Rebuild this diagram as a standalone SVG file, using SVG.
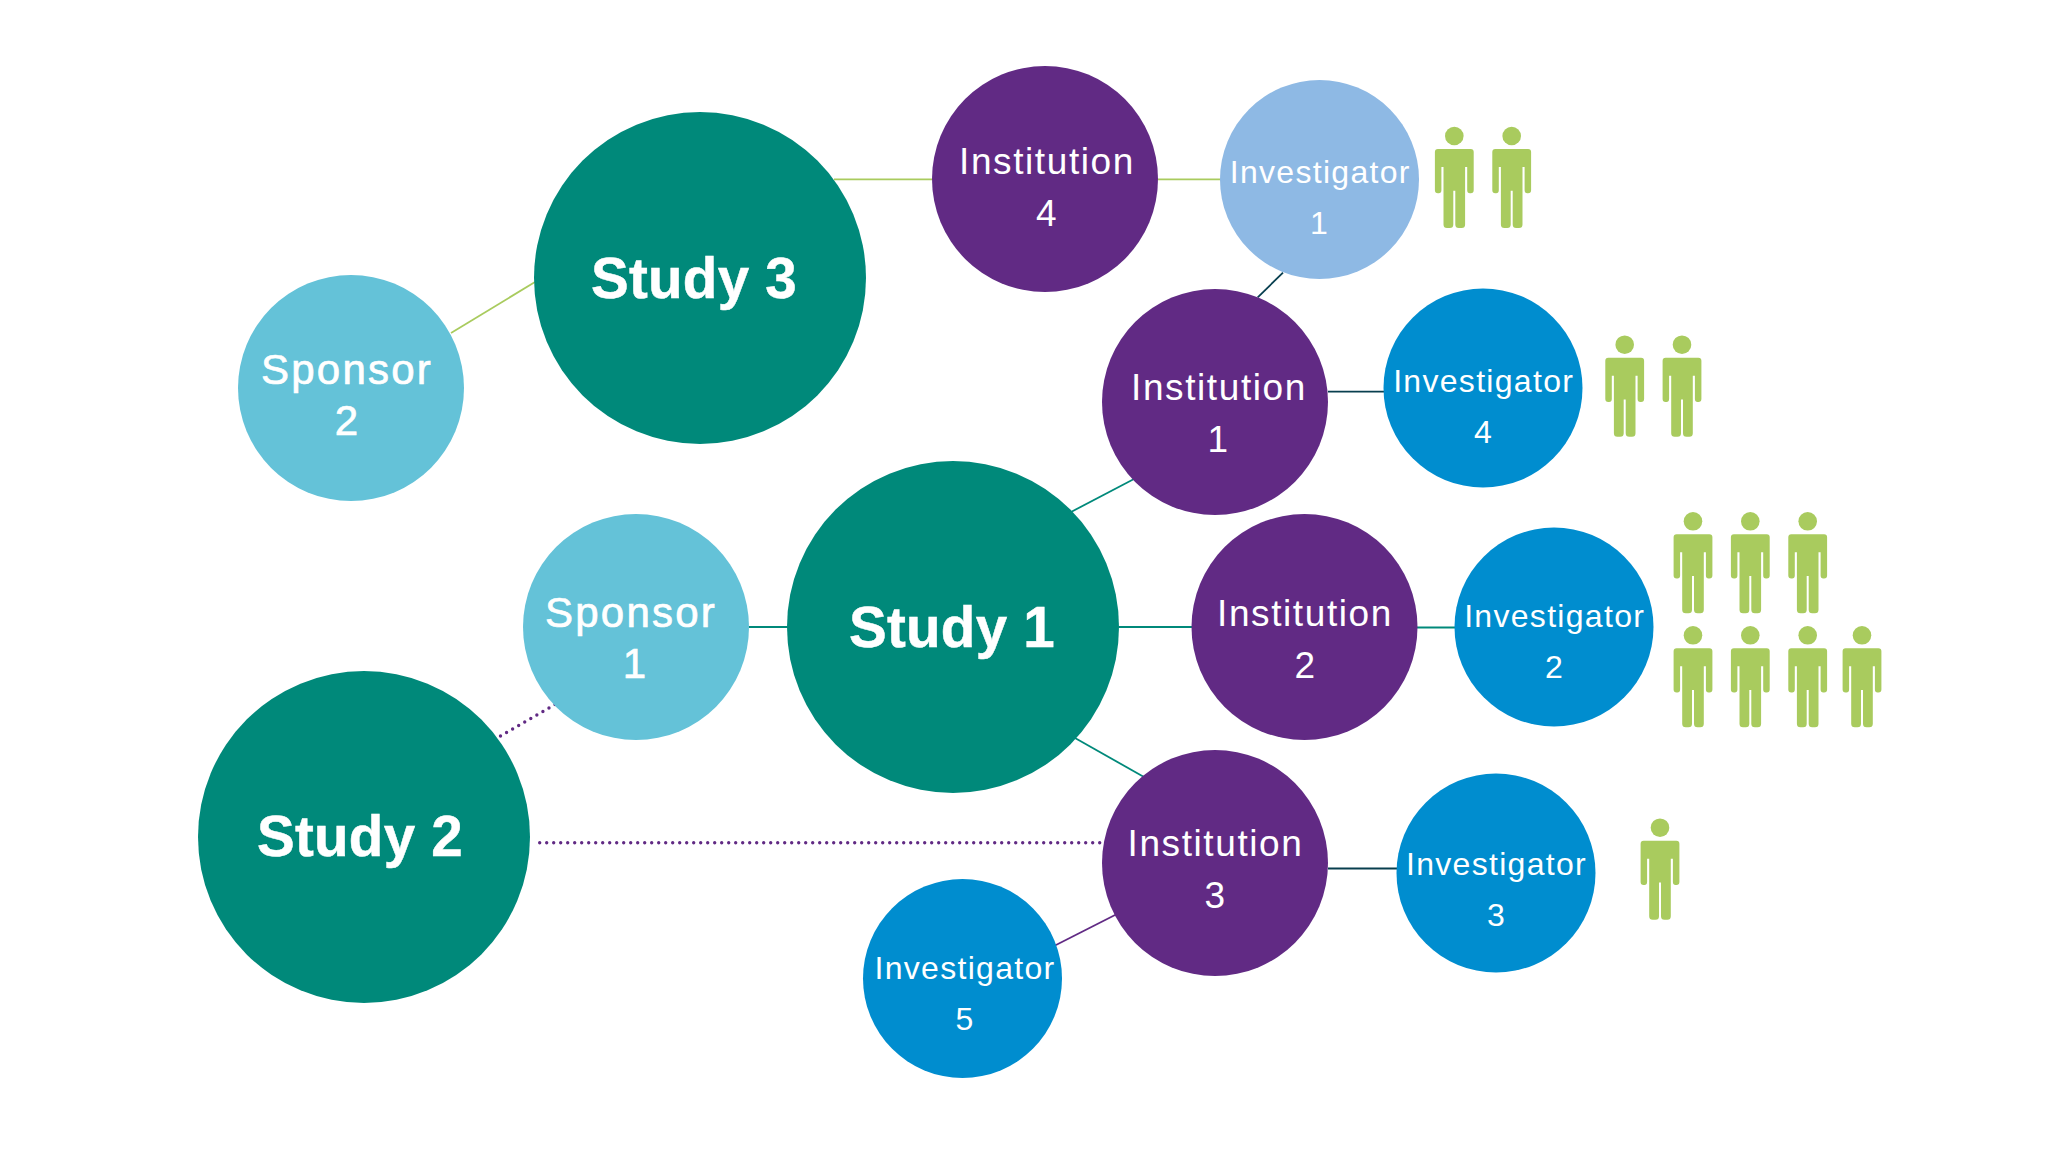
<svg xmlns="http://www.w3.org/2000/svg" xmlns:xlink="http://www.w3.org/1999/xlink" width="2048" height="1152" viewBox="0 0 2048 1152">
<style>
text{font-family:"Liberation Sans",Arial,sans-serif;fill:#fff;text-anchor:middle}
.st{fill:#00897a}.in{fill:#612a84}.sp{fill:#64c2d8}.iv{fill:#008dcf}.iv1{fill:#8eb9e4}
.t-study{font-size:56.5px;font-weight:bold;letter-spacing:.3px;stroke:#fff;stroke-width:.5px}
.t-sp{font-size:42px;letter-spacing:2.2px;stroke:#fff;stroke-width:.7px}
.t-in{font-size:37px;letter-spacing:1.6px}
.t-iv{font-size:32px;letter-spacing:1.3px}
.l{fill:none;stroke-width:1.8}
.g{stroke:#a9cb5e}.t{stroke:#00897a}.d{stroke:#083f4f}.p{stroke:#612a84}
.dot{fill:none;stroke:#612a84;stroke-width:3.4;stroke-linecap:round;stroke-dasharray:0 7}
.person{fill:#a9cb5e}
</style>
<defs>
<g id="person">
<circle cx="0" cy="0" r="9.3"/>
<path d="M-16.4 13H16.4Q19.4 13 19.4 16V54.3Q19.4 57.3 16.4 57.3H15.6Q12.9 57.3 12.900 54.3V31H10.800V88.500Q10.800 92 7.300 92H4.500Q1 92 1 88.500V54.700H-1V88.500Q-1 92-4.500 92H-7.300Q-10.800 92-10.800 88.500V31H-12.900V54.300Q-12.900 57.300-15.600 57.300H-16.400Q-19.400 57.300-19.400 54.300V16Q-19.400 13-16.400 13Z"/>
</g>
</defs>
<rect width="2048" height="1152" fill="#fff"/>
<g id="connectors">
<line class="l g" x1="451" y1="333" x2="535" y2="282"/>
<line class="l g" x1="834" y1="179.300" x2="932" y2="179.300"/>
<line class="l g" x1="1158" y1="179.300" x2="1220" y2="179.300"/>
<line class="l d" x1="1257.700" y1="297.300" x2="1283" y2="272.700"/>
<line class="l d" x1="1328" y1="391.700" x2="1384" y2="391.700"/>
<line class="l t" x1="1071" y1="512" x2="1134" y2="479"/>
<line class="l t" x1="749" y1="627" x2="788" y2="627"/>
<line class="l t" x1="1119" y1="627" x2="1192" y2="627"/>
<line class="l t" x1="1417" y1="627.500" x2="1455" y2="627.500"/>
<line class="l t" x1="1075" y1="738" x2="1144" y2="777"/>
<line class="l d" x1="1328" y1="868.500" x2="1397" y2="868.500"/>
<line class="l p" x1="1055" y1="945.500" x2="1117" y2="914"/>
<line class="dot" x1="500.500" y1="736" x2="562" y2="700.400"/>
<line class="dot" x1="539.700" y1="842.700" x2="1105" y2="842.700"/>
</g>
<g id="study3"><circle class="st" cx="700" cy="278" r="166"/><text class="t-study" x="694" y="297.500">Study 3</text></g>
<g id="study1"><circle class="st" cx="953" cy="627" r="166"/><text class="t-study" x="952" y="646.500">Study 1</text></g>
<g id="study2"><circle class="st" cx="364" cy="837" r="166"/><text class="t-study" x="360" y="856">Study 2</text></g>
<g id="sponsor2"><circle class="sp" cx="351" cy="388" r="113"/><text class="t-sp" x="347" y="384">Sponsor</text><text class="t-sp" x="347.500" y="435">2</text></g>
<g id="sponsor1"><circle class="sp" cx="636" cy="627" r="113"/><text class="t-sp" x="631" y="627">Sponsor</text><text class="t-sp" x="635.500" y="678">1</text></g>
<g id="institution4"><circle class="in" cx="1045" cy="179" r="113"/><text class="t-in" x="1047" y="174">Institution</text><text class="t-in" x="1047" y="225.700">4</text></g>
<g id="institution1"><circle class="in" cx="1215" cy="402" r="113"/><text class="t-in" x="1219" y="400">Institution</text><text class="t-in" x="1218.500" y="451.700">1</text></g>
<g id="institution2"><circle class="in" cx="1304.500" cy="627" r="113"/><text class="t-in" x="1305" y="626">Institution</text><text class="t-in" x="1305.500" y="677.700">2</text></g>
<g id="institution3"><circle class="in" cx="1215" cy="863" r="113"/><text class="t-in" x="1215.500" y="856">Institution</text><text class="t-in" x="1215.500" y="907.500">3</text></g>
<g id="investigator1"><circle class="iv1" cx="1319.500" cy="179.500" r="99.500"/><text class="t-iv" x="1320.300" y="183.300">Investigator</text><text class="t-iv" x="1319.500" y="234.300">1</text></g>
<g id="investigator4"><circle class="iv" cx="1483" cy="388" r="99.500"/><text class="t-iv" x="1483.700" y="391.700">Investigator</text><text class="t-iv" x="1483.500" y="443">4</text></g>
<g id="investigator2"><circle class="iv" cx="1554" cy="627" r="99.500"/><text class="t-iv" x="1554.700" y="626.700">Investigator</text><text class="t-iv" x="1554.500" y="678">2</text></g>
<g id="investigator3"><circle class="iv" cx="1496" cy="873" r="99.500"/><text class="t-iv" x="1496.500" y="875">Investigator</text><text class="t-iv" x="1496.500" y="925.700">3</text></g>
<g id="investigator5"><circle class="iv" cx="962.500" cy="978.500" r="99.500"/><text class="t-iv" x="965" y="978.500">Investigator</text><text class="t-iv" x="965" y="1030">5</text></g>
<g id="people" class="person">
<use xlink:href="#person" href="#person" x="1454.300" y="136"/>
<use xlink:href="#person" href="#person" x="1511.700" y="136"/>
<use xlink:href="#person" href="#person" x="1624.700" y="344.700"/>
<use xlink:href="#person" href="#person" x="1682" y="344.700"/>
<use xlink:href="#person" href="#person" x="1693" y="521.300"/>
<use xlink:href="#person" href="#person" x="1750.300" y="521.300"/>
<use xlink:href="#person" href="#person" x="1807.700" y="521.300"/>
<use xlink:href="#person" href="#person" x="1693" y="635.300"/>
<use xlink:href="#person" href="#person" x="1750.300" y="635.300"/>
<use xlink:href="#person" href="#person" x="1807.700" y="635.300"/>
<use xlink:href="#person" href="#person" x="1862" y="635.300"/>
<use xlink:href="#person" href="#person" x="1660" y="827.700"/>
</g>
</svg>
